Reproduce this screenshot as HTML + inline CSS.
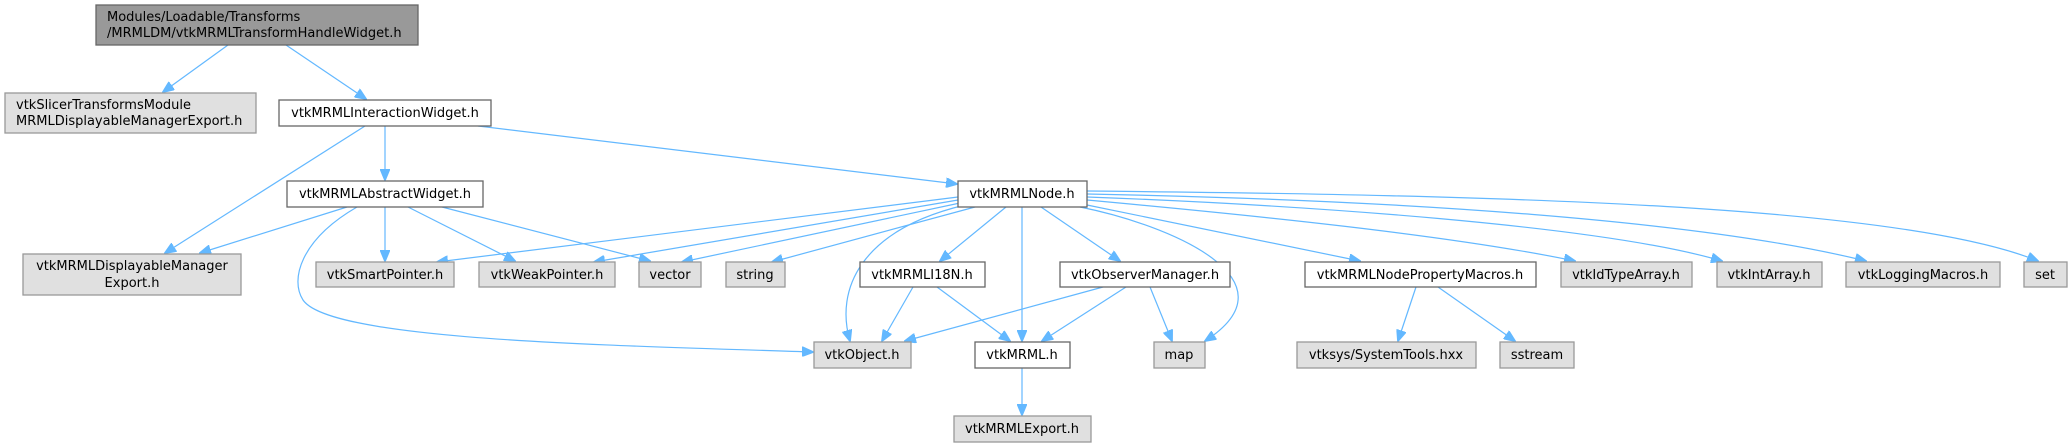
<!DOCTYPE html>
<html><head><meta charset="utf-8"><style>
html,body{margin:0;padding:0;background:#fff;}
svg{display:block;}
text{font-family:"DejaVu Sans","Liberation Sans",sans-serif;font-size:13px;fill:#000;}
.w{fill:#fff;stroke:#666;stroke-width:1.3;}
.g{fill:#e0e0e0;stroke:#999;stroke-width:1.3;}
.r{fill:#999;stroke:#666;stroke-width:1.3;}
.e{fill:none;stroke:#63b8ff;stroke-width:1.2;marker-end:url(#a);}
</style></head><body>
<svg width="2072" height="447" viewBox="0 0 2072 447" xmlns="http://www.w3.org/2000/svg">
<defs><marker id="a" markerWidth="12" markerHeight="10" refX="11" refY="5" orient="auto" markerUnits="userSpaceOnUse"><path d="M0,0 L12,5 L0,10 z" fill="#63b8ff" stroke="#63b8ff"/></marker></defs>

<path class="e" d="M228,45 L163,92"/>
<path class="e" d="M286,45 L366,99"/>
<path class="e" d="M365,126 L165,253"/>
<path class="e" d="M385,126 L385,180"/>
<path class="e" d="M478,126 L957,184"/>
<path class="e" d="M347,207 L200,253"/>
<path class="e" d="M385,207 L385,261"/>
<path class="e" d="M408,207 L515,261"/>
<path class="e" d="M442,207 L650,261"/>
<path class="e" d="M357,207 C300,240 290,280 303,300 C330,340 600,345 813,352"/>
<path class="e" d="M958,197 L437,262"/>
<path class="e" d="M958,200 L594,262"/>
<path class="e" d="M960,203 L682,262"/>
<path class="e" d="M975,207 L772,262"/>
<path class="e" d="M965,205 C860,230 835,290 850,341"/>
<path class="e" d="M1006,207 L940,261"/>
<path class="e" d="M1022,207 L1022,341"/>
<path class="e" d="M1041,207 L1120,261"/>
<path class="e" d="M1080,207 C1170,225 1300,280 1205,341"/>
<path class="e" d="M1087,205 L1360,261"/>
<path class="e" d="M1087,200 C1250,215 1450,235 1575,261"/>
<path class="e" d="M1087,197 C1300,205 1600,225 1722,261"/>
<path class="e" d="M1087,194 C1400,200 1700,220 1866,261"/>
<path class="e" d="M1087,191 C1500,195 1900,205 2038,261"/>
<path class="e" d="M913,287 L882,341"/>
<path class="e" d="M937,287 L1010,341"/>
<path class="e" d="M1103,287 L905,341"/>
<path class="e" d="M1126,287 L1042,341"/>
<path class="e" d="M1150,287 L1172,341"/>
<path class="e" d="M1022,368 L1022,415"/>
<path class="e" d="M1416,287 L1398,341"/>
<path class="e" d="M1438,287 L1515,341"/>

<rect class="r" x="96" y="5" width="322" height="40"/>
<text x="107" y="21">Modules/Loadable/Transforms</text>
<text x="107" y="37">/MRMLDM/vtkMRMLTransformHandleWidget.h</text>

<rect class="g" x="5" y="93" width="251" height="40"/>
<text x="16" y="109">vtkSlicerTransformsModule</text>
<text x="16" y="125">MRMLDisplayableManagerExport.h</text>

<rect class="w" x="279" y="100" width="212" height="26"/>
<text x="385" y="117" text-anchor="middle">vtkMRMLInteractionWidget.h</text>

<rect class="w" x="287" y="181" width="196" height="26"/>
<text x="385" y="198" text-anchor="middle">vtkMRMLAbstractWidget.h</text>

<rect class="w" x="958" y="181" width="129" height="26"/>
<text x="1022" y="198" text-anchor="middle">vtkMRMLNode.h</text>

<rect class="g" x="23" y="254" width="218" height="41"/>
<text x="132" y="270" text-anchor="middle">vtkMRMLDisplayableManager</text>
<text x="132" y="287" text-anchor="middle">Export.h</text>

<rect class="g" x="316" y="262" width="138" height="25"/>
<text x="385" y="279" text-anchor="middle">vtkSmartPointer.h</text>
<rect class="g" x="479" y="262" width="136" height="25"/>
<text x="547" y="279" text-anchor="middle">vtkWeakPointer.h</text>
<rect class="g" x="639" y="262" width="62" height="25"/>
<text x="670" y="279" text-anchor="middle">vector</text>
<rect class="g" x="726" y="262" width="59" height="25"/>
<text x="755" y="279" text-anchor="middle">string</text>
<rect class="w" x="860" y="262" width="125" height="25"/>
<text x="922" y="279" text-anchor="middle">vtkMRMLI18N.h</text>
<rect class="w" x="1060" y="262" width="170" height="25"/>
<text x="1145" y="279" text-anchor="middle">vtkObserverManager.h</text>
<rect class="w" x="1305" y="262" width="231" height="25"/>
<text x="1420" y="279" text-anchor="middle">vtkMRMLNodePropertyMacros.h</text>
<rect class="g" x="1561" y="262" width="131" height="25"/>
<text x="1626" y="279" text-anchor="middle">vtkIdTypeArray.h</text>
<rect class="g" x="1717" y="262" width="105" height="25"/>
<text x="1769" y="279" text-anchor="middle">vtkIntArray.h</text>
<rect class="g" x="1846" y="262" width="154" height="25"/>
<text x="1923" y="279" text-anchor="middle">vtkLoggingMacros.h</text>
<rect class="g" x="2024" y="262" width="43" height="25"/>
<text x="2045" y="279" text-anchor="middle">set</text>

<rect class="g" x="814" y="342" width="97" height="26"/>
<text x="862" y="359" text-anchor="middle">vtkObject.h</text>
<rect class="w" x="975" y="342" width="95" height="26"/>
<text x="1022" y="359" text-anchor="middle">vtkMRML.h</text>
<rect class="g" x="1154" y="342" width="51" height="26"/>
<text x="1179" y="359" text-anchor="middle">map</text>
<rect class="g" x="1297" y="342" width="179" height="26"/>
<text x="1386" y="359" text-anchor="middle">vtksys/SystemTools.hxx</text>
<rect class="g" x="1500" y="342" width="74" height="26"/>
<text x="1537" y="359" text-anchor="middle">sstream</text>

<rect class="g" x="954" y="416" width="137" height="26"/>
<text x="1022" y="433" text-anchor="middle">vtkMRMLExport.h</text>
</svg>
</body></html>
